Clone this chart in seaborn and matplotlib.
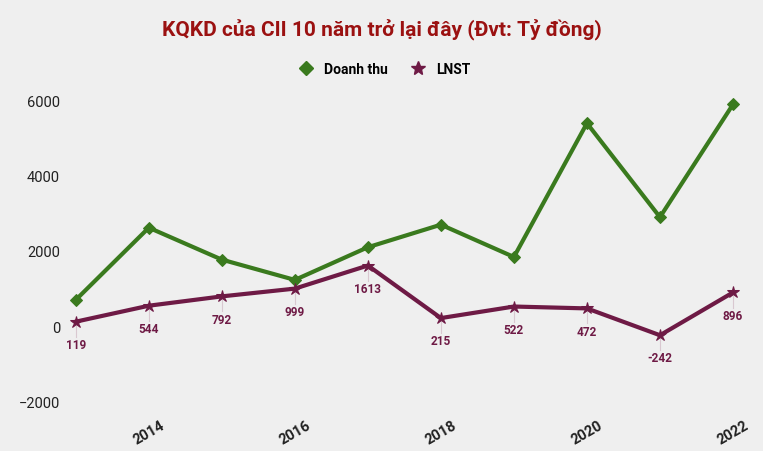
import matplotlib
matplotlib.use("Agg")
import matplotlib.pyplot as plt
from matplotlib.lines import Line2D
import seaborn as sns
import pandas as pd

years = [2013, 2014, 2015, 2016, 2017, 2018, 2019, 2020, 2021, 2022]
doanh_thu = [700, 2620, 1770, 1230, 2100, 2700, 1840, 5400, 2900, 5900]
lnst = [119, 544, 792, 999, 1613, 215, 522, 472, -242, 896]
xticks = [2014, 2016, 2018, 2020, 2022]

BG = "#efefef"
GREEN = "#3a7a1e"
PURPLE = "#6e1a45"

df = pd.DataFrame({"year": years, "Doanh thu": doanh_thu, "LNST": lnst})

fig = plt.figure(figsize=(7.63, 4.52), dpi=100, facecolor=BG)
ax = fig.add_axes([0.085, 0.085, 0.89, 0.715], facecolor=BG)

sns.lineplot(data=df, x="year", y="Doanh thu", ax=ax, color=GREEN, lw=3,
             marker="D", markersize=6, markeredgecolor=GREEN, legend=False)
sns.lineplot(data=df, x="year", y="LNST", ax=ax, color=PURPLE, lw=3,
             marker="*", markersize=9, markeredgecolor=PURPLE, legend=False)

for x, v in zip(years, lnst):
    ax.plot([x, x], [v - 80, v - 400], color="#d9c8d0", lw=0.8, zorder=1)
    ax.text(x, v - 430, f"{v}", ha="center", va="top", fontsize=8.5,
            fontweight="bold", color=PURPLE, fontfamily="Roboto")

ax.set_xlim(2012.85, 2022.15)
ax.set_ylim(-2300, 6300)
ax.set_yticks([-2000, 0, 2000, 4000, 6000])
ax.set_xticks(xticks)
ax.set_xticklabels([str(t) for t in xticks], rotation=30, fontweight="bold",
                   fontsize=10.5, fontfamily="Roboto")
for lab in ax.get_yticklabels():
    lab.set_fontfamily("Roboto")
    lab.set_fontsize(10.5)
ax.set_xlabel("")
ax.set_ylabel("")
ax.tick_params(length=0, colors="#222222")
for s in ax.spines.values():
    s.set_visible(False)

handles = [Line2D([], [], ls="", marker="D", color=GREEN, markersize=7),
           Line2D([], [], ls="", marker="*", color=PURPLE, markersize=10)]
fig.legend(handles, ["Doanh thu", "LNST"], loc="center", bbox_to_anchor=(0.5, 0.845),
           ncol=2, frameon=False, handletextpad=0.3, columnspacing=1.2,
           prop={"family": "Roboto", "weight": "bold", "size": 10})

fig.text(0.5, 0.92, "KQKD của CII 10 năm trở lại đây (Đvt: Tỷ đồng)", ha="center",
         fontsize=15, fontweight="bold", color="#9b1111", fontfamily="Roboto")

fig.savefig("out.png", dpi=100, facecolor=BG)
